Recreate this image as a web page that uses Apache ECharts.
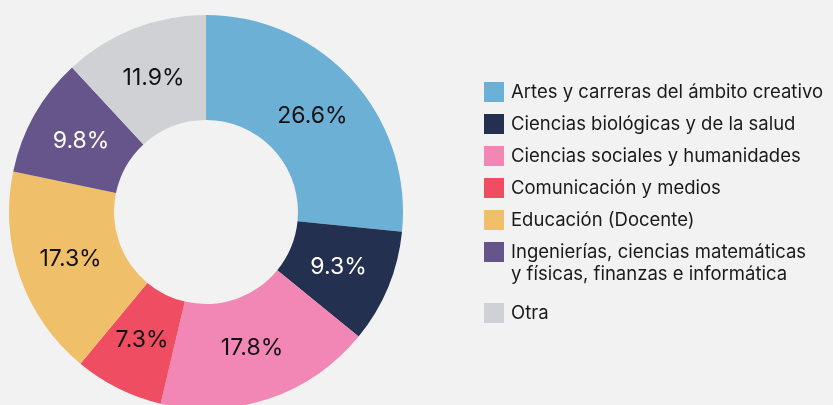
<!DOCTYPE html>
<html>
<head>
<meta charset="utf-8">
<script src="https://cdn.jsdelivr.net/npm/echarts@6/dist/echarts.min.js"></script>
<style>
html,body{margin:0;padding:0;background:#f2f2f2;}
#c{width:833px;height:405px;}
</style>
</head>
<body>
<div id="c"></div>
<script>
const categories = [
  'Artes y carreras del ámbito creativo',
  'Ciencias biológicas y de la salud',
  'Ciencias sociales y humanidades',
  'Comunicación y medios',
  'Educación (Docente)',
  'Ingenierías, ciencias matemáticas\ny físicas, finanzas e informática',
  'Otra'
];
const values = [26.6, 9.3, 17.8, 7.3, 17.3, 9.8, 11.9];
const colors = ['#6db0d5', '#23304f', '#f286b5', '#ef4d62', '#f0bf69', '#66558a', '#d0d1d5'];
const labelColors = ['#111111', '#ffffff', '#111111', '#111111', '#111111', '#ffffff', '#111111'];

const FONT = 'Inter, "Liberation Sans", sans-serif';

const ringData = categories.map((name, i) => ({
  name: name,
  value: values[i],
  itemStyle: { color: colors[i] }
}));
const labelData = categories.map((name, i) => ({
  name: name,
  value: values[i],
  itemStyle: { color: 'rgba(0,0,0,0)' },
  label: { color: labelColors[i] }
}));

const legendText = {
  fontFamily: FONT,
  fontSize: 18.5,
  color: '#1a1a1a',
  lineHeight: 22,
  backgroundColor: 'transparent',
  padding: [0, 0, 0, 2]
};

const legendBase = {
  orient: 'vertical',
  left: 484,
  padding: 0,
  itemWidth: 20,
  itemHeight: 20,
  itemGap: 10,
  icon: 'rect',
  selectedMode: false,
  itemStyle: { borderWidth: 0 },
  textStyle: legendText
};

const chart = echarts.init(document.getElementById('c'), null, { renderer: 'canvas' });
chart.setOption({
  backgroundColor: '#f2f2f2',
  animation: false,
  legend: [
    Object.assign({}, legendBase, { top: 81, data: categories.slice(0, 5) }),
    Object.assign({}, legendBase, {
      top: 219,
      data: [categories[5]],
      formatter: name => '\n' + name
    }),
    Object.assign({}, legendBase, { top: 302, data: categories.slice(6) })
  ],
  series: [{
    type: 'pie',
    center: [206, 212],
    radius: [92, 197],
    startAngle: 90,
    clockwise: true,
    itemStyle: { borderWidth: 0 },
    emphasis: { disabled: true },
    label: { show: false },
    labelLine: { show: false },
    data: ringData
  }, {
    type: 'pie',
    silent: true,
    center: [206, 212],
    radius: [84, 197],
    startAngle: 90,
    clockwise: true,
    avoidLabelOverlap: false,
    itemStyle: { borderWidth: 0 },
    emphasis: { disabled: true },
    label: {
      show: true,
      position: 'inside',
      fontFamily: FONT,
      fontSize: 23,
      formatter: p => p.value.toFixed(1) + '%'
    },
    labelLine: { show: false },
    data: labelData
  }]
});
</script>
</body>
</html>
